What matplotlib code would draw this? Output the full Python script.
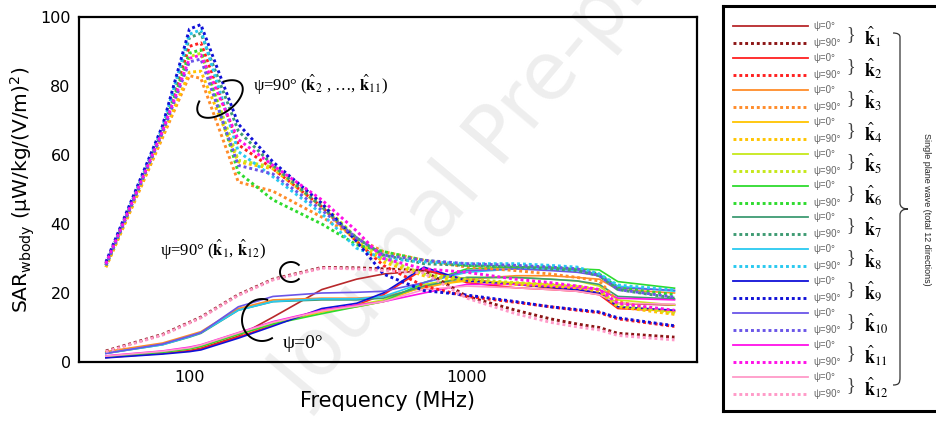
import numpy as np
import matplotlib
matplotlib.use("Agg")
import matplotlib.pyplot as plt
from matplotlib.transforms import Affine2D
from matplotlib.path import Path
from matplotlib.patches import PathPatch

# ---------------- data ----------------
freq_mhz = [50, 80, 100, 110, 150, 200, 300, 400, 500, 700, 1000, 1500, 2000, 2500, 3000, 3500, 5600]

directions = ["1", "2", "3", "4", "5", "6", "7", "8", "9", "10", "11", "12"]
solid_colors = ["#b8282b", "#ff2020", "#ff8c2a", "#ffc400", "#c6e81a", "#2edb2e",
                "#3e9b73", "#29c9f0", "#1010d8", "#6a55e8", "#ff10e8", "#ff9ac8"]
dotted_colors = ["#8c1515", "#ff2020", "#ff8c2a", "#ffc400", "#c6e81a", "#2edb2e",
                 "#3e9b73", "#29c9f0", "#1010d8", "#6a55e8", "#ff10e8", "#ff9ac8"]

# SAR for psi = 0 deg (one list per incident direction k1..k12)
sar_psi0_k1 = [1.5, 2.5, 3.3, 4.0, 7.5, 13.0, 21.0, 24.0, 25.5, 26.5, 24.0, 22.5, 21.5, 21.0, 20.0, 17.0, 16.5]
sar_psi0_k2 = [1.3, 2.5, 3.2, 3.8, 7.2, 10.8, 15.0, 16.5, 19.5, 27.0, 23.0, 21.5, 21.0, 20.5, 19.5, 15.5, 14.7]
sar_psi0_k3 = [3.0, 5.5, 7.8, 8.8, 15.5, 18.0, 18.5, 18.5, 19.0, 21.5, 24.0, 25.0, 25.0, 24.5, 24.0, 21.0, 20.0]
sar_psi0_k4 = [1.5, 2.8, 3.8, 4.5, 8.0, 11.0, 14.5, 16.0, 17.5, 22.0, 23.5, 23.0, 22.5, 22.0, 21.0, 16.0, 14.5]
sar_psi0_k5 = [1.6, 3.0, 4.0, 4.8, 8.3, 11.3, 15.0, 16.5, 18.0, 22.5, 24.5, 24.5, 24.0, 23.5, 22.0, 18.0, 16.5]
sar_psi0_k6 = [1.5, 2.8, 3.8, 4.5, 8.0, 11.0, 14.0, 16.0, 17.5, 23.0, 27.0, 27.5, 27.5, 27.0, 26.7, 23.3, 21.4]
sar_psi0_k7 = [2.5, 5.0, 7.2, 8.3, 15.0, 17.5, 18.0, 18.0, 18.5, 22.0, 24.5, 24.5, 24.0, 23.5, 22.5, 19.0, 18.3]
sar_psi0_k8 = [2.5, 5.0, 7.3, 8.5, 15.0, 17.5, 18.3, 18.3, 19.0, 23.0, 26.0, 27.0, 27.0, 26.5, 25.5, 22.0, 20.5]
sar_psi0_k9 = [1.2, 2.3, 3.0, 3.5, 6.9, 10.4, 15.5, 17.0, 20.0, 27.5, 23.5, 22.5, 21.7, 21.0, 20.0, 16.0, 15.0]
sar_psi0_k10 = [2.5, 5.2, 7.5, 8.5, 16.0, 19.0, 20.0, 20.2, 20.5, 23.0, 26.5, 27.0, 26.5, 26.0, 25.0, 21.5, 20.8]
sar_psi0_k11 = [1.8, 3.2, 4.3, 5.0, 8.5, 11.7, 15.0, 16.5, 17.5, 20.0, 22.5, 22.5, 22.0, 21.5, 21.0, 18.5, 18.0]
sar_psi0_k12 = [1.7, 3.1, 4.1, 4.9, 8.4, 11.5, 14.8, 16.2, 17.5, 21.0, 22.0, 21.5, 21.0, 20.5, 19.5, 17.0, 16.8]

# SAR for psi = 90 deg
sar_psi90_k1 = [3.2, 8.0, 11.5, 13.0, 19.5, 24.0, 27.4, 27.3, 27.0, 26.5, 19.0, 15.0, 12.5, 11.0, 10.0, 8.3, 7.2]
sar_psi90_k2 = [28.5, 67.5, 91.5, 92.5, 63.0, 56.0, 45.0, 35.0, 28.0, 22.0, 19.0, 17.3, 16.0, 15.0, 14.3, 12.5, 10.3]
sar_psi90_k3 = [27.5, 65.0, 83.0, 82.2, 52.2, 49.5, 42.0, 36.0, 32.0, 29.5, 27.5, 26.5, 25.5, 24.5, 23.5, 17.5, 14.0]
sar_psi90_k4 = [27.5, 65.5, 84.0, 84.3, 58.0, 56.0, 45.0, 35.0, 29.0, 25.0, 23.5, 22.5, 22.0, 21.5, 20.5, 16.0, 13.8]
sar_psi90_k5 = [28.0, 66.5, 88.5, 89.5, 58.5, 56.5, 46.0, 36.0, 30.0, 25.5, 24.0, 23.0, 22.5, 22.0, 21.0, 16.5, 14.3]
sar_psi90_k6 = [28.0, 67.0, 89.5, 90.5, 55.0, 47.0, 40.0, 34.0, 32.0, 29.5, 28.0, 28.0, 27.5, 27.0, 25.5, 21.5, 19.5]
sar_psi90_k7 = [28.5, 67.5, 94.0, 95.3, 67.0, 57.0, 45.0, 36.0, 31.0, 28.5, 28.0, 27.5, 27.0, 26.5, 25.0, 21.0, 18.5]
sar_psi90_k8 = [28.5, 68.0, 95.0, 96.3, 61.0, 53.7, 43.0, 33.0, 30.0, 29.0, 28.5, 28.5, 28.0, 27.5, 25.5, 22.3, 20.9]
sar_psi90_k9 = [29.0, 68.5, 96.5, 97.8, 69.0, 58.0, 46.0, 35.0, 25.5, 20.7, 19.4, 17.5, 16.0, 15.2, 14.5, 12.8, 10.5]
sar_psi90_k10 = [28.0, 66.5, 87.0, 87.8, 57.0, 54.5, 44.0, 36.0, 31.0, 29.5, 28.5, 28.0, 27.5, 27.0, 25.0, 21.0, 18.8]
sar_psi90_k11 = [28.5, 67.0, 88.0, 89.0, 64.5, 57.0, 47.0, 38.0, 30.0, 27.0, 26.0, 24.0, 23.0, 22.0, 21.0, 17.0, 15.0]
sar_psi90_k12 = [3.0, 7.8, 11.3, 12.8, 19.3, 23.8, 27.2, 27.0, 26.5, 25.8, 18.5, 14.0, 11.5, 10.2, 9.3, 7.7, 6.4]

sar_psi0 = [sar_psi0_k1, sar_psi0_k2, sar_psi0_k3, sar_psi0_k4, sar_psi0_k5, sar_psi0_k6,
            sar_psi0_k7, sar_psi0_k8, sar_psi0_k9, sar_psi0_k10, sar_psi0_k11, sar_psi0_k12]
sar_psi90 = [sar_psi90_k1, sar_psi90_k2, sar_psi90_k3, sar_psi90_k4, sar_psi90_k5, sar_psi90_k6,
             sar_psi90_k7, sar_psi90_k8, sar_psi90_k9, sar_psi90_k10, sar_psi90_k11, sar_psi90_k12]

y_ticks = [0, 20, 40, 60, 80, 100]
x_ticks = [100, 1000]
x_ticklabels = ["100", "1000"]

# ---------------- figure ----------------
W, H = 937, 421
fig = plt.figure(figsize=(W / 100, H / 100), dpi=100)
fig.patch.set_facecolor("white")
# pixel coordinates measured from the top-left corner
pix = Affine2D().scale(1, -1).translate(0, H)

ax = fig.add_axes([79 / W, (H - 362) / H, 618 / W, 345 / H])
ax.patch.set_alpha(0)

dot_style = (0, (1, 1))
for c, vals in zip(solid_colors, sar_psi0):
    ax.plot(freq_mhz, vals, color=c, lw=1.2, zorder=2)
for c, vals in zip(dotted_colors, sar_psi90):
    ax.plot(freq_mhz, vals, color=c, lw=2.1, linestyle=dot_style, zorder=3)

ax.set_xscale("log")
ax.set_xlim(40, 6750)
ax.set_ylim(0, 100)
ax.set_xticks(x_ticks)
ax.set_xticklabels(x_ticklabels)
ax.xaxis.set_minor_locator(matplotlib.ticker.NullLocator())
ax.set_yticks(y_ticks)
ax.tick_params(length=0, labelsize=11.5, pad=6)
for s in ax.spines.values():
    s.set_linewidth(1.6)
ax.set_xlabel("Frequency (MHz)", fontsize=15, labelpad=4)
ax.set_ylabel(r"SAR$_{\mathrm{wbody}}$ (μW/kg/(V/m)$^{2}$)", fontsize=14.5, labelpad=2)

# watermark
ax.text(505 / W, 1 - 135 / H, "Journal Pre-proof", transform=fig.transFigure,
        rotation=50, rotation_mode="anchor", ha="center", va="center",
        fontsize=58, color="#eeeeee", zorder=0.5, clip_on=False)

# group annotations
serif = ["Liberation Serif", "DejaVu Serif"]
ax.text(253, 85, r"ψ=90° ($\hat{\mathbf{k}}_{2}$ , …, $\hat{\mathbf{k}}_{11}$)",
        transform=pix, fontsize=12, family=serif, math_fontfamily="stix",
        va="center", ha="left", zorder=5)
ax.text(160, 250, r"ψ=90° ($\hat{\mathbf{k}}_{1}$, $\hat{\mathbf{k}}_{12}$)",
        transform=pix, fontsize=12, family=serif, math_fontfamily="stix",
        va="center", ha="left", zorder=5)
ax.text(283, 343, "ψ=0°", transform=pix, fontsize=14, family=serif,
        va="center", ha="left", zorder=5)


def loop(cx, cy, a, b, tilt_deg, t0, t1):
    t = np.radians(np.linspace(t0, t1, 120))
    ph = np.radians(tilt_deg)
    u = np.array([np.cos(ph), -np.sin(ph)])
    v = np.array([np.sin(ph), np.cos(ph)])
    px = cx + a * np.cos(t) * u[0] + b * np.sin(t) * v[0]
    py = cy + a * np.cos(t) * u[1] + b * np.sin(t) * v[1]
    ax.plot(px, py, color="black", lw=1.4, transform=pix, clip_on=False, zorder=6)


loop(220, 99, 26, 14, 35, -60, 225)
loop(291, 272, 11, 10, 0, 45, 315)
loop(262, 320, 20, 21, 0, 60, 285)

# ---------------- legend panel ----------------
lx0, lx1, ly0, ly1 = 723, 950, 6, 411
lax = fig.add_axes([lx0 / W, (H - ly1) / H, (lx1 - lx0) / W, (ly1 - ly0) / H])
lax.set_xlim(lx0, lx1)
lax.set_ylim(ly1, ly0)
lax.set_xticks([])
lax.set_yticks([])
for s in lax.spines.values():
    s.set_linewidth(2.2)

sans = ["Liberation Sans", "DejaVu Sans"]
row0, row_step, pair_gap = 26, 31.9, 17
for i, name in enumerate(directions):
    y0 = row0 + i * row_step
    y1 = y0 + pair_gap
    lax.plot([733, 808], [y0, y0], color=solid_colors[i], lw=1.3)
    lax.plot([733, 808], [y1, y1], color=dotted_colors[i], lw=2.1, linestyle=dot_style)
    lax.text(813, y0, "ψ=0°", fontsize=7, color="#666666", family=sans, va="center")
    lax.text(813, y1, "ψ=90°", fontsize=7, color="#666666", family=sans, va="center")
    lax.text(846, (y0 + y1) / 2, "}", fontsize=13, color="#444444", family=serif,
             va="center", ha="left")
    lax.text(864, (y0 + y1) / 2 + 2, r"$\hat{\mathbf{k}}_{%s}$" % name, fontsize=13,
             math_fontfamily="stix", va="center", ha="left")

# large brace grouping all directions
bx, top, bot, mid = 900, 33, 385, 209
verts = [(893, top), (bx, top), (bx, top + 4), (bx, top + 8),
         (bx, mid - 6),
         (bx, mid - 2), (903, mid), (908, mid),
         (903, mid), (bx, mid + 2), (bx, mid + 6),
         (bx, bot - 8),
         (bx, bot - 2), (899, bot), (893, bot)]
codes = [Path.MOVETO, Path.CURVE3, Path.CURVE3, Path.LINETO,
         Path.LINETO,
         Path.CURVE4, Path.CURVE4, Path.CURVE4,
         Path.CURVE4, Path.CURVE4, Path.CURVE4,
         Path.LINETO,
         Path.CURVE4, Path.CURVE4, Path.CURVE4]
lax.add_patch(PathPatch(Path(verts, codes), fill=False, lw=0.9, edgecolor="#333333"))

lax.text(926, mid, "Single plane wave (total 12 directions)", rotation=-90,
         fontsize=6.5, family=sans, va="center", ha="center", color="#222222")

fig.savefig("out.png", dpi=100, facecolor="white")
